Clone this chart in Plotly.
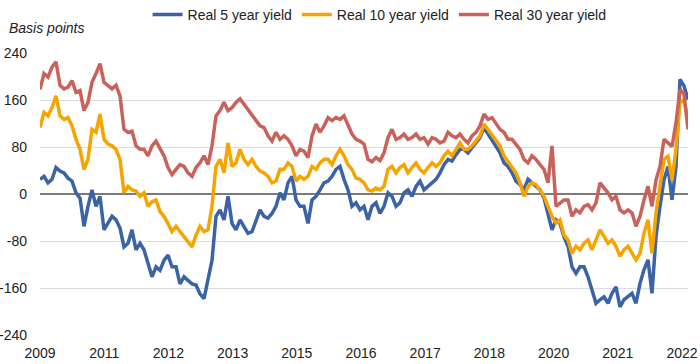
import numpy as np
import plotly.graph_objects as go

# Tick labels along the x axis (evenly spaced categories)
tick_labels = ["2009", "2011", "2012", "2013", "2015", "2016", "2017", "2018", "2020", "2021", "2022"]

# Real 5 year yield (basis points), sampled evenly across the period
real_5y = [
    25, 30, 19, 25, 45, 39, 36, 27, 22, 2, -7, -55, -21, 7, -21, -4, -61, -50, -38, -44,
    -58, -90, -84, -61, -95, -84, -95, -118, -141, -124, -130, -113, -104, -124,
    -124, -153, -141, -147, -153, -155, -170, -178, -147, -113, -38, -27, -44, -4, -50, -61,
    -44, -55, -67, -64, -44, -27, -38, -41, -33, -21, 2, -10, 19, 30, -10, -21,
    -21, -50, -10, -4, 7, 19, 22, 30, 42, 47, 25, 7, -21, -15, -27, -21, -44, -21, -15, -33,
    -21, 2, -4, -21, -15, 2, 7, -4, 13, 22, 7, 13,
    19, 25, 36, 50, 59, 56, 67, 76, 76, 70, 79, 87, 96, 113, 102, 93, 82, 70, 53, 47,
    36, 22, 16, 7, 25, 19, 13, 7, -7, -33, -61, -44, -50, -73,
    -89, -124, -135, -124, -124, -141, -163, -186, -180, -175, -186, -169, -158, -192, -180,
    -175, -169, -186, -152, -129, -112, -169, -72, -21, 24, 47, -10, 47, 195, 184, 161,
]

# Real 10 year yield (basis points)
real_10y = [
    113, 139, 133, 147, 167, 133, 127, 130, 116, 93, 76, 42, 59, 110, 105, 136, 93, 85, 82, 76,
    59, 2, 13, 7, 5, -4, 2, -21, -13, -10, -30, -38, -50, -64,
    -55, -64, -73, -81, -90, -70, -55, -64, -61, -21, 47, 59, 36, 87, 47, 53, 76, 59, 50, 59,
    47, 39, 36, 30, 19, 22, 42, 42, 53, 47, 22, 30,
    25, 30, 47, 42, 53, 59, 59, 50, 65, 76, 65, 50, 42, 27, 25, 19, 7, 5, 10, 7,
    13, 42, 47, 36, 45, 50, 36, 45, 53, 42, 36, 45,
    53, 47, 53, 65, 73, 65, 76, 87, 76, 76, 82, 90, 99, 119, 110, 102, 93, 82, 65, 56,
    47, 36, 19, -4, 13, 19, 16, 7, -4, -21, -38, -50, -44, -70,
    -78, -101, -89, -95, -84, -78, -95, -78, -61, -72, -84, -78, -89, -106, -95,
    -89, -101, -112, -101, -67, -44, -101, -32, 13, 59, 64, 24, 76, 155, 161, 127,
]

# Real 30 year yield (basis points)
real_30y = [
    178, 205, 199, 216, 225, 185, 179, 182, 193, 173, 176, 142, 156, 190, 205, 222, 190, 185, 179, 185,
    167, 110, 105, 107, 82, 76, 76, 65, 82, 90, 76, 65, 45, 33,
    42, 50, 47, 36, 30, 45, 53, 65, 50, 82, 133, 142, 156, 142, 147, 156, 162, 153, 142, 133,
    125, 116, 113, 99, 90, 105, 93, 99, 93, 82, 65, 76,
    73, 62, 99, 119, 105, 116, 130, 125, 130, 127, 133, 119, 102, 93, 90, 85, 59, 55, 62, 57,
    70, 96, 110, 93, 96, 102, 93, 96, 102, 93, 96, 85,
    96, 93, 87, 90, 105, 99, 96, 102, 93, 87, 99, 105, 116, 136, 127, 130, 119, 110, 105, 93,
    93, 85, 76, 59, 53, 65, 59, 50, 42, 19, 82, -21, -15, -10,
    -10, -38, -27, -32, -21, -18, -27, -15, 19, 10, 2, -10, -4, -27, -32,
    -27, -32, -55, -38, -10, 13, -21, 24, 47, 93, 87, 81, 121, 178, 170, 110,
]

series_names = ["Real 5 year yield", "Real 10 year yield", "Real 30 year yield"]
series_colors = ["#3b63a6", "#f6a500", "#c8625a"]

n = len(real_5y)
x = np.arange(n)
last_tick = n - 2.5
tickvals = np.linspace(0, last_tick, len(tick_labels))

FONT = "Liberation Sans, Arial, sans-serif"

fig = go.Figure()
for name, vals, col in zip(series_names, [real_5y, real_10y, real_30y], series_colors):
    fig.add_trace(go.Scatter(
        x=x, y=vals, mode="lines", name=name,
        line=dict(color=col, width=3.5),
        hoverinfo="skip",
    ))

fig.update_layout(
    width=700, height=364,
    margin=dict(l=40, r=12, t=53, b=29, autoexpand=False),
    plot_bgcolor="white", paper_bgcolor="white",
    font=dict(family=FONT, size=14, color="#222222"),
    showlegend=True,
    legend=dict(
        orientation="h", x=0.166, xanchor="left", y=1.135, yanchor="middle",
        font=dict(family=FONT, size=14, color="#222222"),
        bgcolor="rgba(0,0,0,0)", itemwidth=30, tracegroupgap=0,
    ),
    xaxis=dict(
        range=[0, n - 1], tickvals=tickvals, ticktext=tick_labels,
        showgrid=False, zeroline=False, showline=False, ticks="",
        ticklabelstandoff=8,
        tickfont=dict(family=FONT, size=14, color="#222222"),
        fixedrange=True, automargin=False,
    ),
    yaxis=dict(
        range=[-240, 240], tickvals=[-240, -160, -80, 0, 80, 160, 240],
        ticktext=["-240", "-160", "-80", "0", "80", "160", "240"],
        showgrid=True, gridcolor="#d9dde3", gridwidth=1,
        zeroline=True, zerolinecolor="#7a7a7a", zerolinewidth=2.5,
        showline=False, ticks="", ticklabelstandoff=12,
        tickfont=dict(family=FONT, size=14, color="#222222"),
        fixedrange=True, automargin=False,
    ),
    annotations=[dict(
        text="<i>Basis points</i>", xref="paper", yref="paper",
        x=-0.051, y=1.089, xanchor="left", yanchor="middle", showarrow=False,
        font=dict(family=FONT, size=14, color="#222222"),
    )],
)

fig.write_html(
    "out.html",
    config={"displayModeBar": False, "staticPlot": True},
    post_script="document.body.style.margin='0';document.body.style.overflow='hidden';",
)
